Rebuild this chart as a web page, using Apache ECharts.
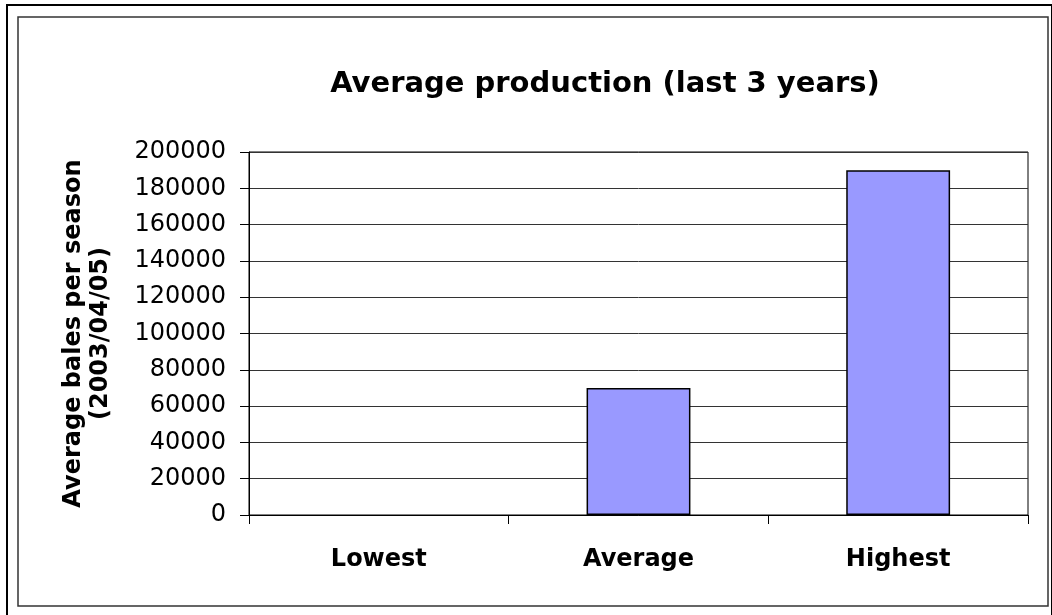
<!DOCTYPE html>
<html>
<head>
<meta charset="utf-8">
<script src="https://cdn.jsdelivr.net/npm/echarts@6/dist/echarts.min.js"></script>
<style>
html,body{margin:0;padding:0;background:#fff;}
#chart{width:1052px;height:615px;}
</style>
</head>
<body>
<div id="chart"></div>
<script>
const titleText = 'Average production (last 3 years)';
const yAxisTitle = 'Average bales per season\n(2003/04/05)';
const categories = ['Lowest', 'Average', 'Highest'];
const bales = [0, 70000, 190000];
const yMin = 0, yMax = 200000, yStep = 20000;

const FONT = 'DejaVu Sans';
const chart = echarts.init(document.getElementById('chart'), null, {renderer: 'canvas'});
chart.setOption({
  backgroundColor: '#fff',
  animation: false,
  graphic: [
    {type: 'rect', shape: {x: 7, y: 5, width: 1045, height: 640}, style: {fill: 'none', stroke: '#000', lineWidth: 2}, silent: true},
    {type: 'rect', shape: {x: 18, y: 17, width: 1030, height: 589}, style: {fill: 'none', stroke: '#333', lineWidth: 1.5}, silent: true},
    {type: 'text', x: 605, y: 84, style: {text: titleText, textAlign: 'center', textVerticalAlign: 'middle', fontFamily: FONT, fontWeight: 'bold', fontSize: 29, fill: '#000'}}
  ],
  grid: {left: 249, right: 24, top: 152, bottom: 100, show: true, borderColor: '#000', borderWidth: 1, backgroundColor: 'transparent'},
  xAxis: {
    type: 'category',
    data: categories,
    axisLine: {lineStyle: {color: '#000', width: 1}},
    axisTick: {show: true, length: 9, lineStyle: {color: '#000'}, alignWithLabel: false},
    axisLabel: {color: '#000', fontFamily: FONT, fontWeight: 'bold', fontSize: 24, margin: 33},
    splitLine: {show: false}
  },
  yAxis: {
    type: 'value',
    min: yMin, max: yMax, interval: yStep,
    name: yAxisTitle,
    nameLocation: 'middle',
    nameRotate: 90,
    nameGap: 135,
    nameTextStyle: {color: '#000', fontFamily: FONT, fontWeight: 'bold', fontSize: 24, lineHeight: 27},
    axisLine: {show: true, lineStyle: {color: '#000', width: 1}},
    axisTick: {show: true, length: 9, lineStyle: {color: '#000'}},
    axisLabel: {color: '#000', fontFamily: FONT, fontSize: 24, margin: 23, formatter: v => String(v)},
    splitLine: {show: true, lineStyle: {color: '#333', width: 1}}
  },
  series: [{
    type: 'bar',
    data: bales.map(v => v === 0 ? {value: v, itemStyle: {borderWidth: 0}} : v),
    barWidth: '40%',
    itemStyle: {color: '#9999FF', borderColor: '#000', borderWidth: 1.5}
  }]
});
</script>
</body>
</html>
